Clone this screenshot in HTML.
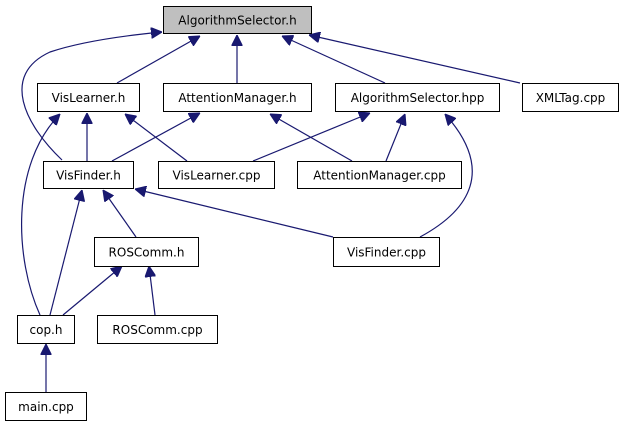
<!DOCTYPE html>
<html><head><meta charset="utf-8"><style>
html,body{margin:0;padding:0;background:#fff;}
svg{display:block;}
text{font-family:"DejaVu Sans","Liberation Sans",sans-serif;font-size:12px;fill:#000;}
</style></head><body>
<svg width="619" height="427" viewBox="0 0 619 427" xmlns="http://www.w3.org/2000/svg">
<defs>
<marker id="a" viewBox="0 0 10 10" refX="10" refY="5" markerWidth="11" markerHeight="11" markerUnits="userSpaceOnUse" orient="auto">
<path d="M0,0 L10,5 L0,10 z" fill="#191970" stroke="#191970"/>
</marker>
</defs>
<g fill="none" stroke="#191970" stroke-width="1.2" marker-end="url(#a)">
<path d="M62,160 C25,125 0,75 50,52 C80,42 120,36 162,32"/>
<path d="M117,83 L200,36"/>
<path d="M237,83 L237,35"/>
<path d="M385,83 L282,36"/>
<path d="M520,83 L309,35"/>
<path d="M87,161 L87,113"/>
<path d="M187,161 L125,114"/>
<path d="M112,161 L200,113"/>
<path d="M352,161 L270,114"/>
<path d="M253,161 L370,113"/>
<path d="M386,161 L405,114"/>
<path d="M420,237 C470,210 495,170 445,114"/>
<path d="M40,315 C15,260 10,165 60,114"/>
<path d="M50,315 L82,190"/>
<path d="M136,237 L103,190"/>
<path d="M333,237 L135,189"/>
<path d="M63,315 L122,266"/>
<path d="M155,315 L149,266"/>
<path d="M46,392 L46,344"/>
</g>
<g stroke="#000" stroke-width="1" fill="#fff">
<rect x="163.5" y="6.5" width="148" height="27" fill="#bfbfbf"/>
<rect x="37.5" y="83.5" width="102" height="28"/>
<rect x="163.5" y="83.5" width="148" height="28"/>
<rect x="335.5" y="83.5" width="164" height="28"/>
<rect x="522.5" y="83.5" width="96" height="28"/>
<rect x="43.5" y="161.5" width="90" height="27"/>
<rect x="158.5" y="161.5" width="116" height="27"/>
<rect x="297.5" y="161.5" width="164" height="27"/>
<rect x="94.5" y="237.5" width="104" height="29"/>
<rect x="333.5" y="237.5" width="106" height="29"/>
<rect x="17.5" y="315.5" width="57" height="28"/>
<rect x="97.5" y="315.5" width="120" height="28"/>
<rect x="5.5" y="392.5" width="81" height="28"/>
</g>
<g text-anchor="middle">
<text x="237.5" y="24.5">AlgorithmSelector.h</text>
<text x="88.5" y="102">VisLearner.h</text>
<text x="237.5" y="102">AttentionManager.h</text>
<text x="417.5" y="102">AlgorithmSelector.hpp</text>
<text x="570.5" y="102">XMLTag.cpp</text>
<text x="88.5" y="179.5">VisFinder.h</text>
<text x="216.5" y="179.5">VisLearner.cpp</text>
<text x="379.5" y="179.5">AttentionManager.cpp</text>
<text x="146.5" y="256.5">ROSComm.h</text>
<text x="386.5" y="256.5">VisFinder.cpp</text>
<text x="46" y="334">cop.h</text>
<text x="157.5" y="334">ROSComm.cpp</text>
<text x="46" y="411">main.cpp</text>
</g>
</svg>
</body></html>
